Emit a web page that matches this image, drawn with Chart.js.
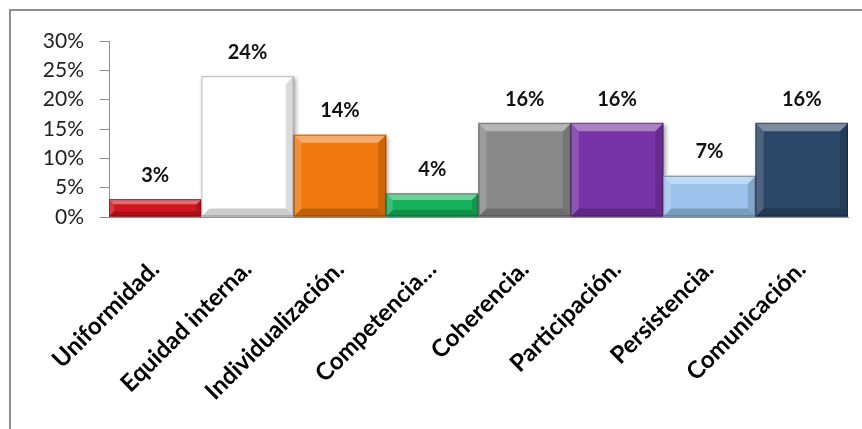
<!DOCTYPE html>
<html>
<head>
<meta charset="utf-8">
<script src="https://cdn.jsdelivr.net/npm/chart.js@4/dist/chart.umd.min.js"></script>
<style>
  html, body { margin: 0; padding: 0; background: #fff; }
  #wrap { position: relative; width: 862px; height: 429px; overflow: hidden; }
  #frame { position: absolute; left: 9px; top: 9px; width: 900px; height: 500px;
           border-left: 2px solid #8e8e8e; border-top: 2px solid #8e8e8e; }
  #chart { position: absolute; left: 0; top: 0; }
</style>
</head>
<body>
<div id="wrap">
  <div id="frame"></div>
  <canvas id="chart" width="862" height="429"></canvas>
</div>
<script>
var categorias = ['Uniformidad.', 'Equidad interna.', 'Individualización.', 'Competencia…',
                  'Coherencia.', 'Participación.', 'Persistencia.', 'Comunicación.'];
var porcentajes = [3, 24, 14, 4, 16, 16, 7, 16];
var colores = ['#d0161e', '#ffffff', '#f0780f', '#16b25b', '#898989', '#7833a8', '#9cc3ee', '#2c4668'];
var ticksY = [0, 5, 10, 15, 20, 25, 30];

var FONT = 'Lato, "Open Sans", sans-serif';

// sombra suave bajo las barras
var sombra = {
  id: 'sombra',
  beforeDatasetDraw: function(chart) {
    var ctx = chart.ctx;
    ctx.save();
    ctx.shadowColor = 'rgba(0,0,0,0.35)';
    ctx.shadowOffsetX = 2;
    ctx.shadowOffsetY = 2;
    ctx.shadowBlur = 4;
  },
  afterDatasetDraw: function(chart) {
    chart.ctx.restore();
  }
};

// bisel tipo Excel y etiquetas de valor
var bisel = {
  id: 'bisel',
  afterDatasetsDraw: function(chart) {
    var ctx = chart.ctx;
    var meta = chart.getDatasetMeta(0);
    meta.data.forEach(function(bar, i) {
      var p = bar.getProps(['x', 'y', 'base', 'width'], true);
      var L = p.x - p.width / 2, R = p.x + p.width / 2, T = p.y, B = p.base;
      var b = Math.min(8, (B - T) / 3.5);
      ctx.save();
      poly(ctx, [[L, T], [R, T], [R - b, T + b], [L + b, T + b]], 'rgba(255,255,255,0.38)');
      poly(ctx, [[L, T], [L + b, T + b], [L + b, B - b], [L, B]], 'rgba(255,255,255,0.16)');
      poly(ctx, [[R, T], [R, B], [R - b, B - b], [R - b, T + b]], 'rgba(0,0,0,0.14)');
      poly(ctx, [[L, B], [R, B], [R - b, B - b], [L + b, B - b]], 'rgba(0,0,0,0.2)');
      ctx.strokeStyle = 'rgba(0,0,0,0.3)';
      ctx.lineWidth = 1;
      ctx.strokeRect(L + 0.5, T + 0.5, R - L - 1, B - T - 1);

      ctx.fillStyle = '#111';
      ctx.font = 'bold 20px ' + FONT;
      ctx.textAlign = 'center';
      ctx.textBaseline = 'middle';
      ctx.fillText(porcentajes[i] + '%', p.x, T - 24);
      ctx.restore();
    });
  }
};

function poly(ctx, pts, color) {
  ctx.beginPath();
  ctx.moveTo(pts[0][0], pts[0][1]);
  for (var k = 1; k < pts.length; k++) ctx.lineTo(pts[k][0], pts[k][1]);
  ctx.closePath();
  ctx.fillStyle = color;
  ctx.fill();
}

var chart = new Chart(document.getElementById('chart'), {
  type: 'bar',
  data: {
    labels: categorias,
    datasets: [{
      data: porcentajes,
      backgroundColor: colores,
      borderWidth: 0,
      categoryPercentage: 1,
      barPercentage: 1
    }]
  },
  options: {
    responsive: false,
    animation: false,
    layout: { padding: { left: 0, right: 14, top: 41, bottom: 0 } },
    plugins: { legend: { display: false }, tooltip: { enabled: false } },
    scales: {
      x: {
        grid: { display: false },
        border: { color: '#8e8e8e', width: 1 },
        ticks: {
          color: '#000',
          font: { family: FONT, size: 24, weight: 'bold' },
          minRotation: 45,
          maxRotation: 45,
          autoSkip: false,
          padding: 30
        },
        afterFit: function(s) { s.height = 212; }
      },
      y: {
        min: 0,
        max: 30,
        afterBuildTicks: function(s) {
          s.ticks = ticksY.map(function(v) { return { value: v }; });
        },
        grid: { drawOnChartArea: false, drawTicks: true, tickLength: 9, color: '#8e8e8e' },
        border: { color: '#8e8e8e', width: 1 },
        ticks: {
          color: '#222',
          font: { family: FONT, size: 21 },
          padding: 16,
          callback: function(v) { return v + '%'; }
        },
        afterFit: function(s) { s.width = 109; }
      }
    }
  },
  plugins: [sombra, bisel]
});
</script>
</body>
</html>
